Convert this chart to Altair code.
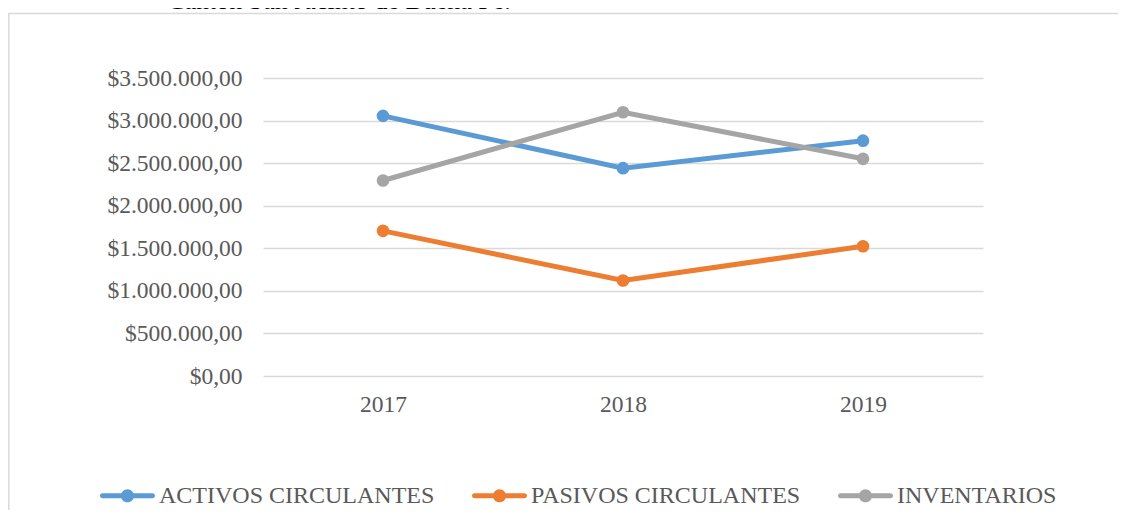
import altair as alt
import pandas as pd

years = ["2017", "2018", "2019"]
series = ["ACTIVOS CIRCULANTES", "PASIVOS CIRCULANTES", "INVENTARIOS"]
activos = [3055000, 2441000, 2764000]
pasivos = [1705000, 1122000, 1524000]
inventarios = [2296000, 3098000, 2551000]
colors = ["#5B9BD5", "#ED7D31", "#A5A5A5"]
y_ticks = [0, 500000, 1000000, 1500000, 2000000, 2500000, 3000000, 3500000]
top_text = "Cantón San Jacinto de Buena Fe."

rows = []
for s, vals in zip(series, [activos, pasivos, inventarios]):
    for yr, v in zip(years, vals):
        rows.append({"year": yr, "serie": s, "valor": v})
df = pd.DataFrame(rows)

FONT = "Liberation Serif"
GREY_TXT = "#595959"

x = alt.X("year:N", title=None, sort=years,
          scale=alt.Scale(type="point", padding=0.5),
          axis=alt.Axis(labelAngle=0, ticks=False, domain=False, grid=False,
                        labelPadding=16))
y = alt.Y("valor:Q", title=None,
          scale=alt.Scale(domain=[0, 3500000], nice=False, zero=True),
          axis=alt.Axis(values=y_ticks, format="$,.2f", ticks=False, domain=False,
                        grid=True, labelPadding=21))
color_scale = alt.Scale(domain=series, range=colors)

# legend symbol: a horizontal line with a dot in the middle
SYMBOL = ("M-0.91,-0.09L0.91,-0.09A0.09,0.09 0 0,1 0.91,0.09L-0.91,0.09A0.09,0.09 0 0,1 -0.91,-0.09Z "
          "M-0.24,0A0.24,0.24 0 1,1 0.24,0A0.24,0.24 0 1,1 -0.24,0Z")

legend = alt.Legend(title=None, orient="none", legendX=-163, legendY=390,
                    direction="horizontal", columns=3,
                    symbolType=SYMBOL, symbolSize=3025,
                    symbolStrokeWidth=0, symbolOpacity=1,
                    labelFont=FONT, labelFontSize=24,
                    labelColor=GREY_TXT, labelOffset=4,
                    columnPadding=36, labelLimit=500)

base = alt.Chart(df)
lines = base.mark_line(strokeWidth=5).encode(
    x=x, y=y,
    color=alt.Color("serie:N", scale=color_scale, sort=series, legend=legend),
)
points = base.mark_circle(size=160, opacity=1).encode(
    x=x, y=y,
    color=alt.Color("serie:N", scale=color_scale, sort=series, legend=legend),
)

frame_df = pd.DataFrame({"k": [0]})
frame = alt.Chart(frame_df).mark_rect(fill=None, stroke="#d9d9d9", strokeWidth=1.5).encode(
    x=alt.value(-254.2), x2=alt.value(2000), y=alt.value(-64.5), y2=alt.value(1000)
)

head_df = pd.DataFrame({"t": [top_text]})
head = alt.Chart(head_df).mark_text(font=FONT, fontSize=26, color="#000000",
                                   baseline="alphabetic", align="center").encode(
    text="t:N", x=alt.value(76), y=alt.value(-69)
)

chart = alt.layer(frame, head, lines, points).properties(
    width=720, height=298,
    padding={"left": 255, "top": 70, "right": 135, "bottom": 134},
    autosize=alt.AutoSizeParams(type="none"),
).configure(
    locale={"number": {"decimal": ",", "thousands": ".", "grouping": [3],
                       "currency": ["$", ""]}},
).configure_view(stroke=None).configure_axis(
    labelFont=FONT, labelFontSize=23.5, labelColor=GREY_TXT,
    gridColor="#d9d9d9", gridWidth=1.3,
)

chart.save("out.html", embed_options={"renderer": "svg", "actions": False})
